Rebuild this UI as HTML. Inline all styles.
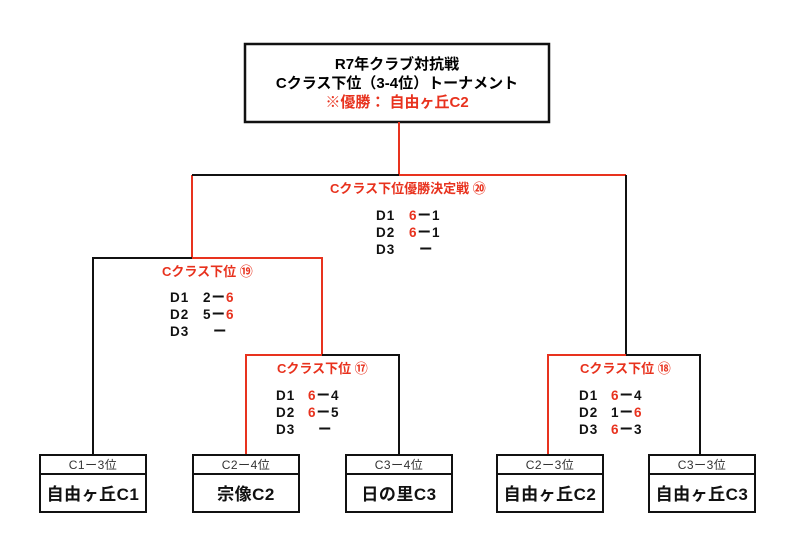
<!DOCTYPE html>
<html><head><meta charset="utf-8"><style>
html,body{margin:0;padding:0;background:#fff;width:794px;height:539px;overflow:hidden}
svg{display:block}
text{font-family:"Liberation Sans","Noto Sans CJK JP",sans-serif;font-weight:bold}
.r{fill:#e8321e}
</style></head><body>
<svg width="794" height="539" viewBox="0 0 794 539">
<g fill="none" stroke-width="2">
<rect x="245" y="44" width="304" height="78" stroke="#111" stroke-width="2.5"/>
<path d="M399 122V175H626" stroke="#e8321e"/>
<path d="M626 175V355" stroke="#111"/>
<path d="M192 175V258" stroke="#e8321e"/>
<path d="M192 258H93V455" stroke="#111"/>
<path d="M192 258H322V355" stroke="#e8321e"/>
<path d="M322 355H246V455" stroke="#e8321e"/>
<path d="M322 355H399V455" stroke="#111"/>
<path d="M626 355H548V455" stroke="#e8321e"/>
<path d="M626 355H700V455" stroke="#111"/>
<path d="M192 175H399" stroke="#111"/>
</g>
<g fill="none" stroke="#111" stroke-width="2">
<rect x="40" y="455" width="106" height="57"/><line x1="40" y1="474" x2="146" y2="474"/>
<rect x="193" y="455" width="106" height="57"/><line x1="193" y1="474" x2="299" y2="474"/>
<rect x="346" y="455" width="106" height="57"/><line x1="346" y1="474" x2="452" y2="474"/>
<rect x="497" y="455" width="106" height="57"/><line x1="497" y1="474" x2="603" y2="474"/>
<rect x="649" y="455" width="106" height="57"/><line x1="649" y1="474" x2="755" y2="474"/>
</g>
<g text-anchor="middle" font-size="15">
<text x="397" y="69">R7年クラブ対抗戦</text>
<text x="397" y="88">Cクラス下位（3-4位）トーナメント</text>
<text x="397" y="107" class="r">※優勝： 自由ヶ丘C2</text>
</g>
<g font-size="13" class="r">
<text x="330" y="193">Cクラス下位優勝決定戦 ⑳</text>
<text x="162" y="276">Cクラス下位 ⑲</text>
<text x="277" y="373">Cクラス下位 ⑰</text>
<text x="580" y="373">Cクラス下位 ⑱</text>
</g>
<g font-size="13.5" fill="#111" letter-spacing="1">
<text x="376" y="220">D1</text><text x="409" y="220"><tspan class="r">6</tspan>ー1</text>
<text x="376" y="237">D2</text><text x="409" y="237"><tspan class="r">6</tspan>ー1</text>
<text x="376" y="254">D3</text><text x="419" y="254">ー</text>

<text x="170" y="302">D1</text><text x="203" y="302">2ー<tspan class="r">6</tspan></text>
<text x="170" y="319">D2</text><text x="203" y="319">5ー<tspan class="r">6</tspan></text>
<text x="170" y="336">D3</text><text x="213" y="336">ー</text>

<text x="276" y="400">D1</text><text x="308" y="400"><tspan class="r">6</tspan>ー4</text>
<text x="276" y="417">D2</text><text x="308" y="417"><tspan class="r">6</tspan>ー5</text>
<text x="276" y="434">D3</text><text x="318" y="434">ー</text>

<text x="579" y="400">D1</text><text x="611" y="400"><tspan class="r">6</tspan>ー4</text>
<text x="579" y="417">D2</text><text x="611" y="417">1ー<tspan class="r">6</tspan></text>
<text x="579" y="434">D3</text><text x="611" y="434"><tspan class="r">6</tspan>ー3</text>
</g>
<g text-anchor="middle" font-size="12" fill="#333" letter-spacing="0.5">
<text x="93" y="469" style="font-weight:normal">C1ー3位</text>
<text x="246" y="469" style="font-weight:normal">C2ー4位</text>
<text x="399" y="469" style="font-weight:normal">C3ー4位</text>
<text x="550" y="469" style="font-weight:normal">C2ー3位</text>
<text x="702" y="469" style="font-weight:normal">C3ー3位</text>
</g>
<g text-anchor="middle" font-size="17" fill="#111" letter-spacing="0.5">
<text x="93" y="500">自由ヶ丘C1</text>
<text x="246" y="500">宗像C2</text>
<text x="399" y="500">日の里C3</text>
<text x="550" y="500">自由ヶ丘C2</text>
<text x="702" y="500">自由ヶ丘C3</text>
</g>
</svg>
</body></html>
